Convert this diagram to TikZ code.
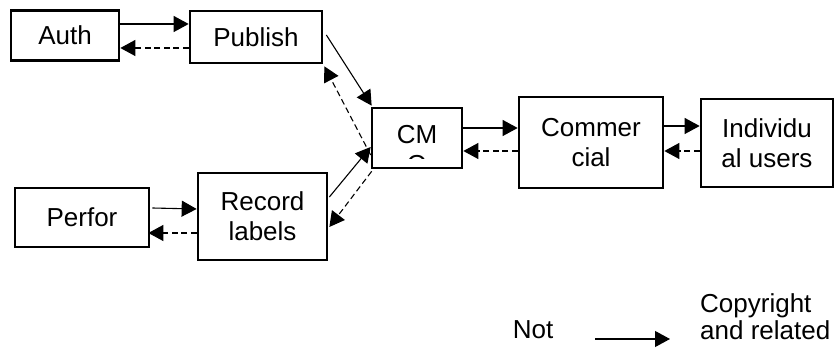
\documentclass[tikz,border=0pt]{standalone}
\usepackage{fontspec}
\setmainfont{Liberation Sans}
\usetikzlibrary{arrows.meta}
\tikzset{
  box/.style={draw=black, line width=2.7pt, rectangle, inner sep=0pt,
              align=center, font=\fontsize{26}{30}\selectfont},
  flow/.style={line width=1.1pt, -{Triangle[length=15pt,width=16pt]}},
  back/.style={flow, dash pattern=on 6pt off 3.5pt},
  lbl/.style={inner sep=0pt, font=\fontsize{26}{27}\selectfont}
}
\begin{document}
\begin{tikzpicture}[x=1pt,y=-1pt]
  \useasboundingbox (0,0) rectangle (835,352);

  % boxes
  \node[box, minimum width=108pt, minimum height=50pt] (auth) at (65,35.5) {Auth};
  \node[box, minimum width=132pt, minimum height=52pt] (pub) at (256,37) {Publish};
  \node[box, minimum width=134pt, minimum height=59pt] (perf) at (82,217.5) {Perfor};
  \node[box, minimum width=129pt, minimum height=87pt] (rec) at (262.5,216.5) {Record\\labels};
  \node[box, minimum width=90pt, minimum height=60pt] (cmo) at (417,138) {};
  \node[box, minimum width=144pt, minimum height=91pt] (com) at (591,142.5) {Commer\\cial};
  \node[box, minimum width=132pt, minimum height=88pt] (ind) at (767,143) {Individu\\al users};

  % label of the collecting society, cut off by its frame
  \begin{scope}
    \clip (374,110) rectangle (460,158.5);
    \node[align=center, inner sep=0pt, font=\fontsize{26}{30}\selectfont] (cmotext) at (417,150) {CM\\O};
  \end{scope}

  % rights flow (solid) and payments (dashed)
  \draw[flow] ([yshift=11.5pt]auth.east) -- ([yshift=13pt]pub.west);
  \draw[back] ([yshift=-11pt]pub.west) -- ([yshift=-12.5pt]auth.east);

  \draw[flow] ([xshift=3pt,yshift=2pt]pub.east) -- ([xshift=1pt,yshift=1pt]cmo.north west);
  \draw[back] ([yshift=-17pt]cmo.west) -- ([xshift=1pt,yshift=-2pt]pub.south east);

  \draw[flow] ([xshift=2pt,yshift=9.5pt]perf.east) -- ([yshift=7.5pt]rec.west);
  \draw[back] ([yshift=-16.5pt]rec.west) -- ([xshift=-2pt,yshift=-15.5pt]perf.east);

  \draw[flow] ([xshift=1pt,yshift=19.5pt]rec.east) -- ([yshift=-9pt]cmo.west);
  \draw[back] ([xshift=1pt,yshift=-2pt]cmo.south west) -- ([xshift=1pt,yshift=-10.5pt]rec.east);

  \draw[flow] ([yshift=10pt]cmo.east) -- ([yshift=14.5pt]com.west);
  \draw[back] ([yshift=-8.5pt]com.west) -- ([yshift=-13pt]cmo.east);

  \draw[flow] ([yshift=16.5pt]com.east) -- ([yshift=17pt]ind.west);
  \draw[back] ([yshift=-8pt]ind.west) -- ([yshift=-8.5pt]com.east);

  % legend
  \node[lbl] (not) at (533,330) {Not};
  \coordinate (ls) at (595,339);
  \coordinate (le) at (670,339);
  \draw[flow] (ls) -- (le);
  \node[lbl, anchor=west, align=left] (copy) at (700,316.5) {Copyright\\and related};
\end{tikzpicture}
\end{document}
